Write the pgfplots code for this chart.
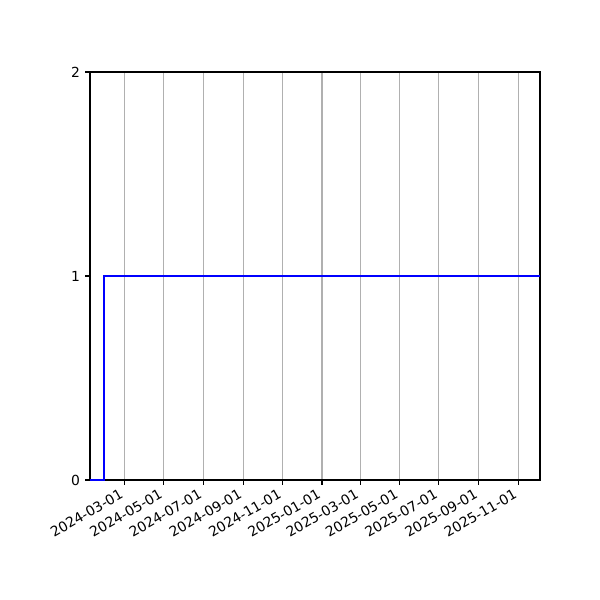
\documentclass[border=0pt]{standalone}
\usepackage{pgfplots}
\pgfplotsset{compat=1.18}
\usepackage{fontspec}
\setmainfont{DejaVu Sans}
\begin{document}
\begin{tikzpicture}
\path[use as bounding box] (-64.8pt,-86.4pt) rectangle (367.2pt,345.6pt);
\begin{axis}[
  at={(0,0)}, anchor=south west,
  scale only axis, width=324pt, height=293.76pt,
  xmin=6.6, xmax=703.6, ymin=0, ymax=2,
  xtick={60,121,182,244,305,366,425,486,547,609,670},
  xticklabels={2024-03-01,2024-05-01,2024-07-01,2024-09-01,2024-11-01,2025-01-01,2025-03-01,2025-05-01,2025-07-01,2025-09-01,2025-11-01},
  ytick={0,1,2},
  xmajorgrids, grid style={color=black!31, line width=0.8pt},
  tick align=outside, major tick length=3.5pt,
  tick style={black, line width=0.8pt},
  axis line style={line width=0.8pt},
  xtick pos=bottom, ytick pos=left,
  /pgf/number format/assume math mode=true,
  ticklabel style={font=\fontsize{10}{12}\selectfont},
  xticklabel style={xshift=-3.6pt, yshift=-1pt, rotate=30, anchor=north east, inner sep=1pt},
  yticklabel style={inner sep=1pt, xshift=-2.5pt},
]
\addplot[const plot, color=blue, line width=1.5pt] coordinates {(6.6,0) (28,1) (703.6,1)};
\end{axis}
\end{tikzpicture}
\end{document}
